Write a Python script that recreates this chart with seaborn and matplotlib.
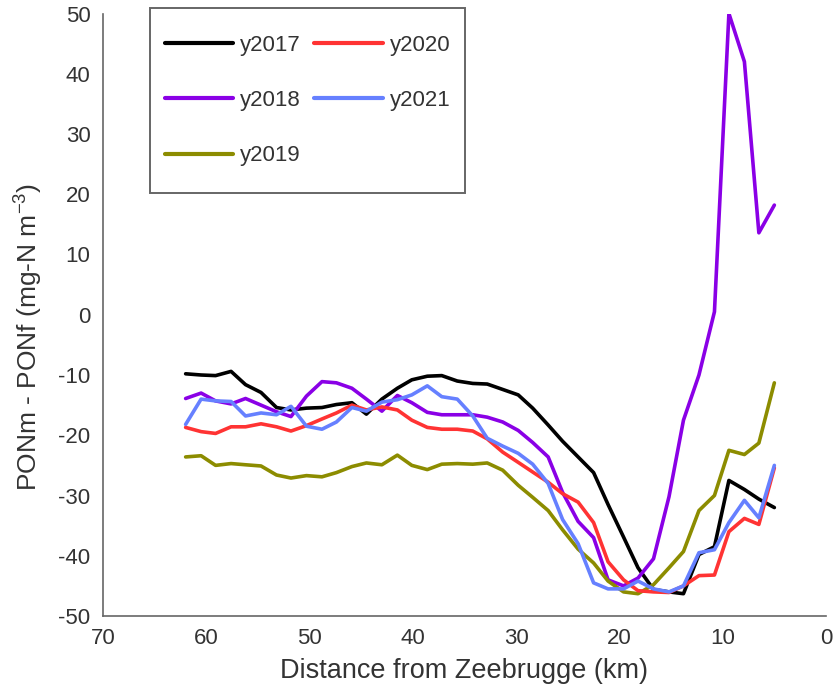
import matplotlib
matplotlib.use("Agg")
import matplotlib.pyplot as plt
from matplotlib.patches import Rectangle
import numpy as np
import pandas as pd
import seaborn as sns

# Along-transect distance of each station (km from Zeebrugge)
distance_km = [62.0, 60.5, 59.1, 57.6, 56.2, 54.7, 53.2, 51.8, 50.3, 48.8,
               47.4, 45.9, 44.5, 43.0, 41.5, 40.1, 38.6, 37.2, 35.7, 34.2,
               32.8, 31.3, 29.8, 28.4, 26.9, 25.5, 24.0, 22.5, 21.1, 19.6,
               18.2, 16.7, 15.2, 13.8, 12.3, 10.8, 9.4, 7.9, 6.5, 5.0]

# PONm - PONf difference per year (mg-N m-3)
y2017 = [-9.8, -10.0, -10.1, -9.4, -11.6, -12.9, -15.4, -15.8, -15.5, -15.4,
         -14.9, -14.6, -16.5, -14.0, -12.2, -10.8, -10.2, -10.1, -11.0, -11.4,
         -11.5, -12.4, -13.3, -15.5, -18.3, -21.0, -23.6, -26.2, -31.5, -36.9,
         -42.0, -45.6, -46.0, -46.3, -39.8, -38.5, -27.5, -29.0, -30.6, -32.0]
y2018 = [-13.9, -13.0, -14.3, -14.8, -13.9, -15.0, -16.1, -16.9, -13.5, -11.1,
         -11.3, -12.2, -14.0, -16.0, -13.4, -14.6, -16.2, -16.6, -16.6, -16.6,
         -17.0, -17.8, -19.2, -21.2, -23.6, -29.5, -34.3, -37.0, -44.0, -45.0,
         -43.7, -40.5, -30.2, -17.5, -10.0, 0.5, 50.0, 42.0, 13.6, 18.2]
y2019 = [-23.6, -23.4, -25.0, -24.7, -24.9, -25.1, -26.6, -27.1, -26.7, -26.9,
         -26.2, -25.2, -24.6, -24.9, -23.3, -25.0, -25.7, -24.8, -24.7, -24.8,
         -24.6, -25.8, -28.3, -30.3, -32.5, -35.7, -38.9, -41.2, -44.2, -46.0,
         -46.3, -44.8, -42.0, -39.3, -32.5, -30.0, -22.5, -23.2, -21.3, -11.3]
y2020 = [-18.7, -19.4, -19.7, -18.6, -18.6, -18.1, -18.6, -19.3, -18.4, -17.3,
         -16.3, -15.0, -15.8, -15.3, -15.8, -17.5, -18.7, -19.0, -19.0, -19.3,
         -20.6, -22.8, -24.5, -26.1, -27.8, -29.7, -31.1, -34.5, -41.0, -44.0,
         -45.8, -46.0, -46.1, -45.0, -43.3, -43.2, -36.0, -33.8, -34.8, -25.4]
y2021 = [-18.2, -14.0, -14.3, -14.4, -16.8, -16.3, -16.6, -15.2, -18.5, -19.0,
         -17.8, -15.4, -16.0, -14.5, -14.1, -13.3, -11.8, -13.6, -14.0, -16.8,
         -20.5, -21.8, -23.0, -24.8, -28.0, -34.0, -38.0, -44.5, -45.5, -45.5,
         -44.2, -45.5, -46.0, -45.0, -39.5, -39.0, -34.5, -30.8, -33.7, -25.0]

years = ["y2017", "y2018", "y2019", "y2020", "y2021"]
colors = ["#000000", "#8A00E6", "#8C8C00", "#FF3333", "#6680FF"]

x_ticks = [70, 60, 50, 40, 30, 20, 10, 0]
y_ticks = [-50, -40, -30, -20, -10, 0, 10, 20, 30, 40, 50]

series = dict(zip(years, [y2017, y2018, y2019, y2020, y2021]))
df = pd.concat(
    [pd.DataFrame({"distance": distance_km, "dpon": vals, "year": yr})
     for yr, vals in series.items()],
    ignore_index=True,
)

sns.set_theme(style="white")
plt.rcParams["font.family"] = ["Liberation Sans", "DejaVu Sans"]
plt.rcParams["mathtext.default"] = "regular"
plt.rcParams["axes.unicode_minus"] = False

text_color = "#333333"
axis_color = "#666666"

fig = plt.figure(figsize=(8.38, 6.98), dpi=100)
ax = fig.add_axes([103 / 838, 82 / 698, 723 / 838, 602.5 / 698])

sns.lineplot(
    data=df, x="distance", y="dpon", hue="year", hue_order=years,
    palette=dict(zip(years, colors)), estimator=None, sort=False,
    linewidth=2.6, ax=ax, legend=True,
)
for line in ax.get_lines():
    line.set_solid_joinstyle("round")
    line.set_solid_capstyle("round")

ax.set_xlim(70, 0)
ax.set_ylim(-50, 50)
ax.set_xticks(x_ticks)
ax.set_yticks(y_ticks)
ax.tick_params(axis="both", direction="in", length=4, width=1.2,
               color=axis_color, labelsize=16, labelcolor=text_color, pad=9)
for side in ("top", "right"):
    ax.spines[side].set_visible(False)
for side in ("left", "bottom"):
    ax.spines[side].set_color(axis_color)
    ax.spines[side].set_linewidth(1.2)

ax.set_xlabel("Distance from Zeebrugge (km)", fontsize=19.5,
              color=text_color, labelpad=6)
ax.set_ylabel("PONm - PONf (mg-N m$^{-3}$)", fontsize=19,
              color=text_color)
ax.yaxis.set_label_coords(-0.08, 0.463)

handles, labels = ax.get_legend_handles_labels()
ax.get_legend().remove()
leg = fig.legend(
    handles, labels, ncol=2, loc="center",
    bbox_to_anchor=(307.5 / 838, 1 - 100.5 / 698),
    frameon=False, fontsize=16, handlelength=3.1, handletextpad=0.3,
    columnspacing=0.6, labelspacing=1.55, borderpad=0,
)
for t in leg.get_texts():
    t.set_color(text_color)
for h in leg.legend_handles:
    h.set_linewidth(3.0)

fig.patches.append(Rectangle(
    (150 / 838, 1 - 193 / 698), 315 / 838, 185 / 698,
    transform=fig.transFigure, fill=False, edgecolor="#666666",
    linewidth=1.4, zorder=5,
))

fig.savefig("out.png", dpi=100, facecolor="white")
